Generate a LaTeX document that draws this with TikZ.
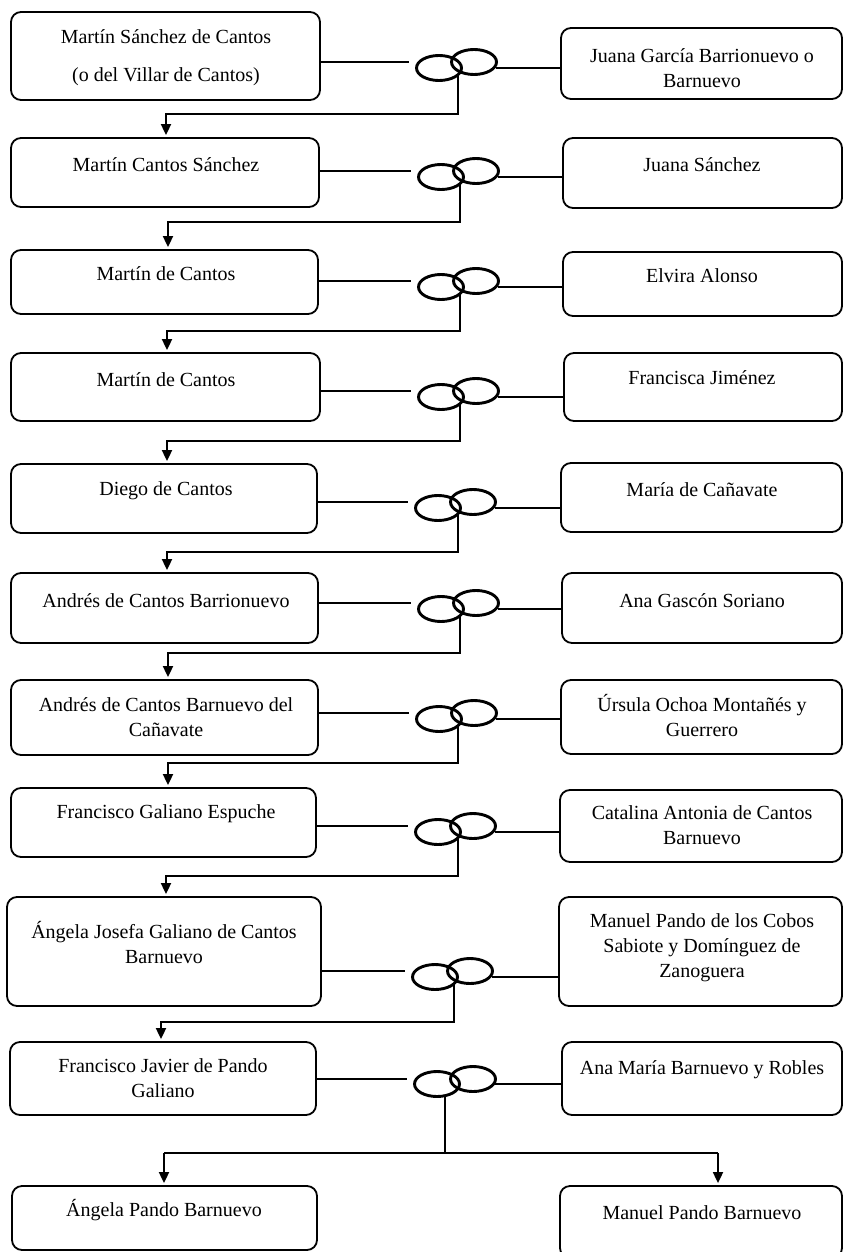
\documentclass[tikz,border=0pt]{standalone}
\usepackage{fontspec}
\setmainfont{Liberation Serif}
\usetikzlibrary{arrows.meta,shapes.geometric,fit}
\begin{document}
\begin{tikzpicture}[x=1pt,y=-1pt,
 box/.style={draw, line width=1.8pt, rounded corners=10pt, inner sep=0pt},
 txt/.style={font=\fontsize{20}{25}\selectfont, align=center, inner sep=0pt},
 ring/.style={draw, ellipse, line width=2.9pt, minimum width=45pt, minimum height=25pt, inner sep=0pt},
 conn/.style={line width=1.8pt},
 arr/.style={line width=1.8pt, -{Triangle[length=11pt,width=10pt]}, shorten >=2pt},
]
\useasboundingbox (0,0) rectangle (843,1252);

% ---- boxes ----
\node[box, fit={(11,12)(320,100)}] (L1) {};
\node[box, fit={(561,28)(842,99)}] (R1) {};
\node[box, fit={(11,138)(319,207)}] (L2) {};
\node[box, fit={(563,138)(842,208)}] (R2) {};
\node[box, fit={(11,250)(318,314)}] (L3) {};
\node[box, fit={(563,252)(842,316)}] (R3) {};
\node[box, fit={(11,353)(320,421)}] (L4) {};
\node[box, fit={(564,353)(842,421)}] (R4) {};
\node[box, fit={(11,464)(317,533)}] (L5) {};
\node[box, fit={(561,463)(842,532)}] (R5) {};
\node[box, fit={(11,573)(318,643)}] (L6) {};
\node[box, fit={(562,573)(842,643)}] (R6) {};
\node[box, fit={(11,680)(318,755)}] (L7) {};
\node[box, fit={(561,680)(842,754)}] (R7) {};
\node[box, fit={(11,788)(316,857)}] (L8) {};
\node[box, fit={(560,790)(842,862)}] (R8) {};
\node[box, fit={(7,897)(321,1006)}] (L9) {};
\node[box, fit={(559,897)(842,1006)}] (R9) {};
\node[box, fit={(10,1042)(316,1115)}] (L10) {};
\node[box, fit={(562,1042)(842,1115)}] (R10) {};
\node[box, fit={(12,1186)(317,1250)}] (L11) {};
\node[box, fit={(560,1186)(842,1258)}] (R11) {};

% ---- texts ----
\node[txt] (tL1a) at (166,37) {Martín Sánchez de Cantos};
\node[txt] (tL1b) at (166,77) {(o del Villar de Cantos)};
\node[txt] (tR1) at (702,68) {Juana García Barrionuevo o\\Barnuevo};
\node[txt] (tL2) at (166,165) {Martín Cantos Sánchez};
\node[txt] (tR2) at (702,165) {Juana Sánchez};
\node[txt] (tL3) at (166,274) {Martín de Cantos};
\node[txt] (tR3) at (702,276) {Elvira Alonso};
\node[txt] (tL4) at (166,380) {Martín de Cantos};
\node[txt] (tR4) at (702,378) {Francisca Jiménez};
\node[txt] (tL5) at (166,491) {Diego de Cantos};
\node[txt] (tR5) at (702,490) {María de Cañavate};
\node[txt] (tL6) at (166,601) {Andrés de Cantos Barrionuevo};
\node[txt] (tR6) at (702,601) {Ana Gascón Soriano};
\node[txt] (tL7) at (166,717) {Andrés de Cantos Barnuevo del\\Cañavate};
\node[txt] (tR7) at (702,716) {Úrsula Ochoa Montañés y\\Guerrero};
\node[txt] (tL8) at (166,814) {Francisco Galiano Espuche};
\node[txt] (tR8) at (702,825) {Catalina Antonia de Cantos\\Barnuevo};
\node[txt] (tL9) at (164,943) {Ángela Josefa Galiano de Cantos\\Barnuevo};
\node[txt] (tR9) at (702,948) {Manuel Pando de los Cobos\\Sabiote y Domínguez de\\Zanoguera};
\node[txt] (tL10) at (163,1078) {Francisco Javier de Pando\\Galiano};
\node[txt] (tR10) at (702,1070) {Ana María Barnuevo y Robles};
\node[txt] (tL11) at (164,1210) {Ángela Pando Barnuevo};
\node[txt] (tR11) at (702,1213) {Manuel Pando Barnuevo};

% ---- rings ----
\node[ring] (a1) at (439,68) {};   \node[ring] (b1) at (474,62) {};
\node[ring] (a2) at (441,177) {};  \node[ring] (b2) at (476,171) {};
\node[ring] (a3) at (441,287) {};  \node[ring] (b3) at (476,281) {};
\node[ring] (a4) at (441,397) {};  \node[ring] (b4) at (476,391) {};
\node[ring] (a5) at (438,508) {};  \node[ring] (b5) at (473,502) {};
\node[ring] (a6) at (441,609) {};  \node[ring] (b6) at (476,603) {};
\node[ring] (a7) at (439,719) {};  \node[ring] (b7) at (474,713) {};
\node[ring] (a8) at (438,832) {};  \node[ring] (b8) at (473,826) {};
\node[ring] (a9) at (435,977) {};  \node[ring] (b9) at (470,971) {};
\node[ring] (a10) at (437,1084) {}; \node[ring] (b10) at (473,1079) {};

% ---- couple lines ----
\foreach \i in {1,...,10}{
  \draw[conn] (L\i.east |- b\i.center) -- ([xshift=-6pt]a\i.west |- b\i.center);
  \draw[conn] ([xshift=-2pt]b\i.east |- a\i.center) -- (R\i.west |- a\i.center);
}

% ---- descent connectors ----
\coordinate (j1) at (166,114);
\coordinate (j2) at (168,222);
\coordinate (j3) at (167,331);
\coordinate (j4) at (167,441);
\coordinate (j5) at (167,552);
\coordinate (j6) at (168,653);
\coordinate (j7) at (168,763);
\coordinate (j8) at (166,876);
\coordinate (j9) at (161,1022);
\draw[arr] ([xshift=19pt,yshift=-8pt]a1.center) |- (j1) -- (j1 |- L2.north);
\draw[arr] ([xshift=19pt,yshift=-8pt]a2.center) |- (j2) -- (j2 |- L3.north);
\draw[arr] ([xshift=19pt,yshift=-8pt]a3.center) |- (j3) -- (j3 |- L4.north);
\draw[arr] ([xshift=19pt,yshift=-8pt]a4.center) |- (j4) -- (j4 |- L5.north);
\draw[arr] ([xshift=20pt,yshift=-7pt]a5.center) |- (j5) -- (j5 |- L6.north);
\draw[arr] ([xshift=19pt,yshift=-8pt]a6.center) |- (j6) -- (j6 |- L7.north);
\draw[arr] ([xshift=19pt,yshift=-8pt]a7.center) |- (j7) -- (j7 |- L8.north);
\draw[arr] ([xshift=20pt,yshift=-7pt]a8.center) |- (j8) -- (j8 |- L9.north);
\draw[arr] ([xshift=19pt,yshift=-8pt]a9.center) |- (j9) -- (j9 |- L10.north);

\coordinate (k10) at (445,1153);
\coordinate (kL) at (164,1153);
\coordinate (kR) at (718,1153);
\draw[conn] ([xshift=8pt,yshift=-12pt]a10.center) -- (k10);
\draw[conn] (kL) -- (kR);
\draw[arr] (kL) -- (kL |- L11.north);
\draw[arr] (kR) -- (kR |- R11.north);
\end{tikzpicture}
\end{document}
